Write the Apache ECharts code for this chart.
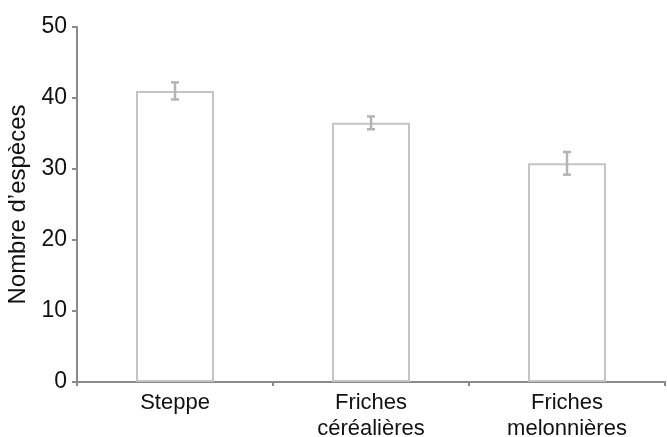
<!DOCTYPE html>
<html>
<head>
<meta charset="utf-8">
<script src="https://cdn.jsdelivr.net/npm/echarts@6/dist/echarts.min.js"></script>
<style>html,body{margin:0;padding:0;background:#fff;}#c{width:667px;height:437px;}</style>
</head>
<body>
<div id="c"></div>
<script>
var categories = ['Steppe', 'Friches\ncéréalières', 'Friches\nmelonnières'];
var values = [41.0, 36.5, 30.8];
var errLow = [39.8, 35.6, 29.2];
var errHigh = [42.2, 37.4, 32.4];
var yTicks = [0, 10, 20, 30, 40, 50];

var chart = echarts.init(document.getElementById('c'));
var font = '"Liberation Sans", Arial, sans-serif';
chart.setOption({
  animation: false,
  grid: {left: 77, right: 2, top: 27, bottom: 55, containLabel: false, outerBoundsMode: 'none'},
  xAxis: {
    type: 'category',
    data: categories,
    axisLine: {lineStyle: {color: '#8a8a8a', width: 2}},
    axisTick: {show: true, alignWithLabel: false, length: 4, lineStyle: {color: '#8a8a8a', width: 2}},
    axisLabel: {color: '#111', fontFamily: font, fontSize: 22, lineHeight: 26, margin: 8, interval: 0}
  },
  yAxis: {
    type: 'value',
    min: yTicks[0],
    max: yTicks[yTicks.length - 1],
    interval: 10,
    name: "Nombre d’espèces",
    nameLocation: 'middle',
    nameGap: 44,
    nameTextStyle: {color: '#111', fontFamily: font, fontSize: 24},
    splitLine: {show: false},
    axisLine: {show: true, lineStyle: {color: '#8a8a8a', width: 2}},
    axisTick: {show: true, length: 5, lineStyle: {color: '#8a8a8a', width: 2}},
    axisLabel: {color: '#111', fontFamily: font, fontSize: 23, margin: 10}
  },
  series: [
    {
      type: 'bar',
      data: values,
      barWidth: 78,
      itemStyle: {color: '#ffffff', borderColor: '#c4c4c4', borderWidth: 2}
    },
    {
      type: 'custom',
      data: categories.map(function (c, i) { return [i, errLow[i], errHigh[i]]; }),
      renderItem: function (params, api) {
        var lo = api.coord([api.value(0), api.value(1)]);
        var hi = api.coord([api.value(0), api.value(2)]);
        var w = 4;
        var st = {stroke: '#b4b4b4', lineWidth: 2.5};
        return {
          type: 'group',
          children: [
            {type: 'line', shape: {x1: hi[0], y1: hi[1], x2: lo[0], y2: lo[1]}, style: st},
            {type: 'line', shape: {x1: hi[0] - w, y1: hi[1], x2: hi[0] + w, y2: hi[1]}, style: st},
            {type: 'line', shape: {x1: lo[0] - w, y1: lo[1], x2: lo[0] + w, y2: lo[1]}, style: st}
          ]
        };
      },
      z: 3
    }
  ]
});
</script>
</body>
</html>
